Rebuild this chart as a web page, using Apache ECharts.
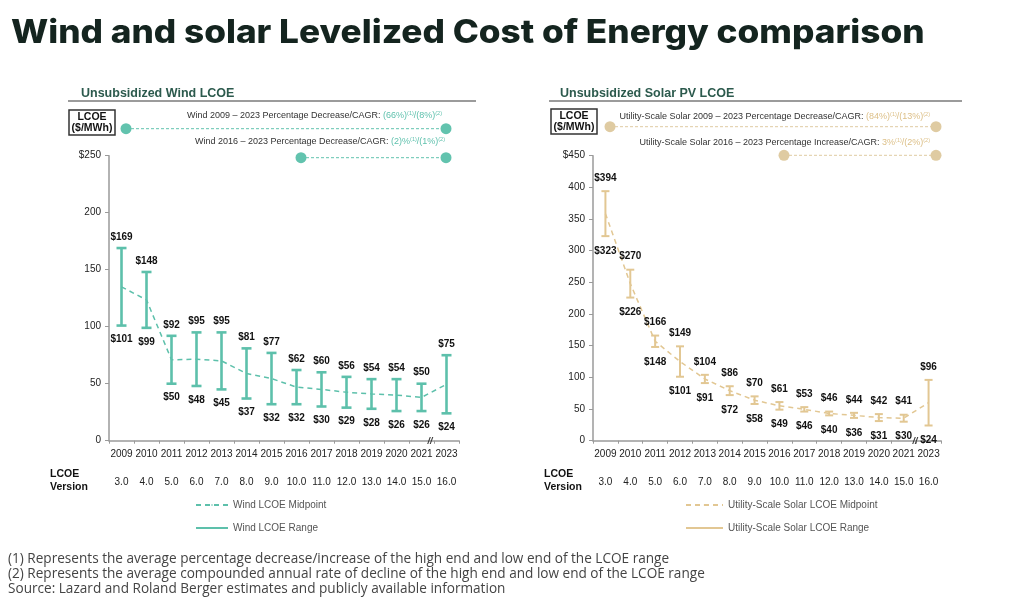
<!DOCTYPE html>
<html>
<head>
<meta charset="utf-8">
<script src="https://cdn.jsdelivr.net/npm/echarts@6/dist/echarts.min.js"></script>
<style>
html,body{margin:0;padding:0;background:#fff;}
#chart{width:1024px;height:599px;}
</style>
</head>
<body>
<div id="chart"></div>
<script>
// ---- Data ----
const years = ['2009','2010','2011','2012','2013','2014','2015','2016','2017','2018','2019','2020','2021','2023'];
const versions = ['3.0','4.0','5.0','6.0','7.0','8.0','9.0','10.0','11.0','12.0','13.0','14.0','15.0','16.0'];

const windHigh = [169,148,92,95,95,81,77,62,60,56,54,54,50,75];
const windLow  = [101,99,50,48,45,37,32,32,30,29,28,26,26,24];
const windMid  = [135,123.5,71,71.5,70,59,54.5,47,45,42.5,41,40,38,49.5];

const solarHigh = [394,270,166,149,104,86,70,61,53,46,44,42,41,96];
const solarLow  = [323,226,148,101,91,72,58,49,46,40,36,31,30,24];
const solarMid  = [358.5,248,157,125,97.5,79,64,55,49.5,43,40,36.5,35.5,60];

const windTicks = [0,50,100,150,200,250];
const solarTicks = [0,50,100,150,200,250,300,350,400,450];

// ---- Style ----
const TEAL = '#5dc0ab';
const TAN = '#e2c793';
const TAN_TXT = '#ddc089';
const DARKGREEN = '#2c5a4d';
const FONT = '"Liberation Sans", Arial, sans-serif';

function rangeData(hi, lo){ return years.map((y,i)=>[i, hi[i], lo[i]]); }

function rangeRender(color, lw, cap, upOff, downOff){
  return function(params, api){
    const i = api.value(0), hi = api.value(1), lo = api.value(2);
    const pH = api.coord([i, hi]);
    const pL = api.coord([i, lo]);
    const x = pH[0];
    const st = {stroke: color, lineWidth: lw};
    return {type:'group', children:[
      {type:'line', shape:{x1:x,y1:pH[1],x2:x,y2:pL[1]}, style:st},
      {type:'line', shape:{x1:x-cap,y1:pH[1],x2:x+cap,y2:pH[1]}, style:st},
      {type:'line', shape:{x1:x-cap,y1:pL[1],x2:x+cap,y2:pL[1]}, style:st},
      {type:'text', x:x, y:pH[1]-upOff, style:{text:'$'+hi, align:'center', verticalAlign:'middle', font:'bold 10px '+FONT, fill:'#111'}},
      {type:'text', x:x, y:pL[1]+downOff, style:{text:'$'+lo, align:'center', verticalAlign:'middle', font:'bold 10px '+FONT, fill:'#111'}}
    ]};
  };
}

function yAxisFor(gridIndex, max){
  return {
    type:'value', gridIndex, min:0, max, interval:50,
    axisLine:{show:true, lineStyle:{color:'#9a9a9a', width:1.5}},
    axisTick:{show:true, length:4, lineStyle:{color:'#9a9a9a'}},
    splitLine:{show:false},
    axisLabel:{fontSize:10, color:'#222', fontFamily:FONT, margin:8,
      formatter: v => v===max ? '$'+v : String(v)}
  };
}
function xAxisYears(gridIndex){
  return {
    type:'category', gridIndex, data:years, position:'bottom',
    axisLine:{lineStyle:{color:'#9a9a9a', width:1.5}},
    axisTick:{show:true, length:3, lineStyle:{color:'#9a9a9a'}},
    axisLabel:{fontSize:10, color:'#222', fontFamily:FONT, margin:9, interval:0}
  };
}
function xAxisVersions(gridIndex){
  return {
    type:'category', gridIndex, data:versions, position:'bottom', offset:28,
    axisLine:{show:false}, axisTick:{show:false},
    axisLabel:{fontSize:10, color:'#222', fontFamily:FONT, margin:9, interval:0}
  };
}

function headerText(x, y, text, color){
  return {type:'text', x, y, style:{
    text, align:'right', verticalAlign:'middle',
    font:'9px '+FONT, fill:'#333',
    rich:{
      c:{fill:color, fontSize:9, fontFamily:FONT},
      s:{fill:color, fontSize:5.5, fontFamily:FONT, verticalAlign:'top', padding:[0,0,5,0]}
    }
  }};
}
function dotRow(x1, x2, y, color){
  return [
    {type:'line', shape:{x1, y1:y, x2, y2:y}, style:{stroke:color, lineWidth:1, lineDash:[3,2]}},
    {type:'circle', shape:{cx:x1, cy:y, r:5.5}, style:{fill:color}},
    {type:'circle', shape:{cx:x2, cy:y, r:5.5}, style:{fill:color}}
  ];
}
function lcoeBox(x, y){
  return [
    {type:'rect', shape:{x, y, width:46, height:25}, style:{fill:'#fff', stroke:'#333', lineWidth:1.5}},
    {type:'text', x:x+23, y:y+7, style:{text:'LCOE', align:'center', verticalAlign:'middle', font:'bold 10.5px '+FONT, fill:'#111'}},
    {type:'text', x:x+23, y:y+18.5, style:{text:'($/MWh)', align:'center', verticalAlign:'middle', font:'bold 10.5px '+FONT, fill:'#111'}}
  ];
}
function versionLabel(x){
  return [
    {type:'text', x, y:474, style:{text:'LCOE', align:'left', verticalAlign:'middle', font:'bold 10.5px '+FONT, fill:'#111'}},
    {type:'text', x, y:487, style:{text:'Version', align:'left', verticalAlign:'middle', font:'bold 10.5px '+FONT, fill:'#111'}}
  ];
}

const chart = echarts.init(document.getElementById('chart'), null, {renderer:'canvas'});

const option = {
  backgroundColor:'#fff',
  animation:false,
  title:[
    {text:'Unsubsidized Wind LCOE', left:76, top:82,
     textStyle:{fontFamily:FONT, fontWeight:'bold', fontSize:12.5, color:DARKGREEN}},
    {text:'Unsubsidized Solar PV LCOE', left:555, top:82,
     textStyle:{fontFamily:FONT, fontWeight:'bold', fontSize:12.5, color:DARKGREEN}}
  ],
  legend:[
    {orient:'vertical', left:195, top:500, padding:0, itemWidth:32, itemHeight:2, itemGap:13,
     textStyle:{fontSize:10, color:'#555', fontFamily:FONT},
     data:[{name:'Wind LCOE Midpoint'}, {name:'Wind LCOE Range', icon:'rect'}]},
    {orient:'vertical', left:685, top:500, padding:0, itemWidth:37, itemHeight:2, itemGap:13,
     textStyle:{fontSize:10, color:'#555', fontFamily:FONT},
     data:[{name:'Utility-Scale Solar LCOE Midpoint'}, {name:'Utility-Scale Solar LCOE Range', icon:'rect'}]}
  ],
  grid:[
    {left:109, width:350, top:155.7, height:285},
    {left:593, width:348, top:155.7, height:285}
  ],
  xAxis:[xAxisYears(0), xAxisYears(1), xAxisVersions(0), xAxisVersions(1)],
  yAxis:[yAxisFor(0,250), yAxisFor(1,450)],
  series:[
    {name:'Wind LCOE Midpoint', type:'line', xAxisIndex:0, yAxisIndex:0, data:windMid,
     symbol:'none', z:1, color:TEAL, lineStyle:{color:TEAL, width:1.5, type:[5,4]}},
    {name:'Wind LCOE Range', type:'custom', xAxisIndex:0, yAxisIndex:0, z:3, color:TEAL,
     data:rangeData(windHigh, windLow), encode:{x:0, y:[1,2]},
     renderItem:rangeRender(TEAL, 2.6, 5, 11, 14)},
    {name:'Utility-Scale Solar LCOE Midpoint', type:'line', xAxisIndex:1, yAxisIndex:1, data:solarMid,
     symbol:'none', z:1, color:TAN, lineStyle:{color:TAN, width:1.5, type:[5,4]}},
    {name:'Utility-Scale Solar LCOE Range', type:'custom', xAxisIndex:1, yAxisIndex:1, z:3, color:TAN,
     data:rangeData(solarHigh, solarLow), encode:{x:0, y:[1,2]},
     renderItem:rangeRender(TAN, 2, 4, 13, 15)}
  ],
  graphic:[
    {type:'text', x:11, y:33, scaleX:1.1, style:{text:'Wind and solar Levelized Cost of Energy comparison', align:'left', verticalAlign:'middle', font:'800 32px Inter, "DejaVu Sans", sans-serif', fill:'#14241f'}},
    {type:'line', shape:{x1:68, y1:101, x2:476, y2:101}, style:{stroke:'#7a7a7a', lineWidth:1.3}},
    {type:'line', shape:{x1:549, y1:101, x2:962, y2:101}, style:{stroke:'#7a7a7a', lineWidth:1.3}},
    ...lcoeBox(69,110),
    ...lcoeBox(551,109),
    ...dotRow(126, 446, 128.7, '#62c3ae'),
    ...dotRow(301, 446, 157.7, '#62c3ae'),
    ...dotRow(610, 936, 126.7, '#dfcba2'),
    ...dotRow(784, 936, 155.3, '#dfcba2'),
    headerText(442, 116, 'Wind 2009 – 2023 Percentage Decrease/CAGR: {c|(66%)}{s|(1)}{c|/(8%)}{s|(2)}', '#5fc1ad'),
    headerText(445, 142, 'Wind 2016 – 2023 Percentage Decrease/CAGR: {c|(2)%}{s|(1)}{c|/(1%)}{s|(2)}', '#5fc1ad'),
    headerText(930, 116.7, 'Utility-Scale Solar 2009 – 2023 Percentage Decrease/CAGR: {c|(84%)}{s|(1)}{c|/(13%)}{s|(2)}', TAN_TXT),
    headerText(930, 142.7, 'Utility-Scale Solar 2016 – 2023 Percentage Increase/CAGR: {c|3%}{s|(1)}{c|/(2%)}{s|(2)}', TAN_TXT),
    ...versionLabel(50),
    ...versionLabel(544),
    {type:'text', x:430, y:441.5, z:10, style:{text:'//', align:'center', verticalAlign:'middle', font:'italic bold 9px '+FONT, fill:'#333'}},
    {type:'text', x:915, y:442, z:10, style:{text:'//', align:'center', verticalAlign:'middle', font:'italic bold 9px '+FONT, fill:'#333'}},
    {type:'text', x:8, y:559, style:{text:'(1) Represents the average percentage decrease/increase of the high end and low end of the LCOE range', verticalAlign:'middle', font:'13.6px "Open Sans", sans-serif', fill:'#444'}},
    {type:'text', x:8, y:574, style:{text:'(2) Represents the average compounded annual rate of decline of the high end and low end of the LCOE range', verticalAlign:'middle', font:'13.6px "Open Sans", sans-serif', fill:'#444'}},
    {type:'text', x:8, y:589, style:{text:'Source: Lazard and Roland Berger estimates and publicly available information', verticalAlign:'middle', font:'13.6px "Open Sans", sans-serif', fill:'#444'}}
  ]
};
chart.setOption(option);
</script>
</body>
</html>
